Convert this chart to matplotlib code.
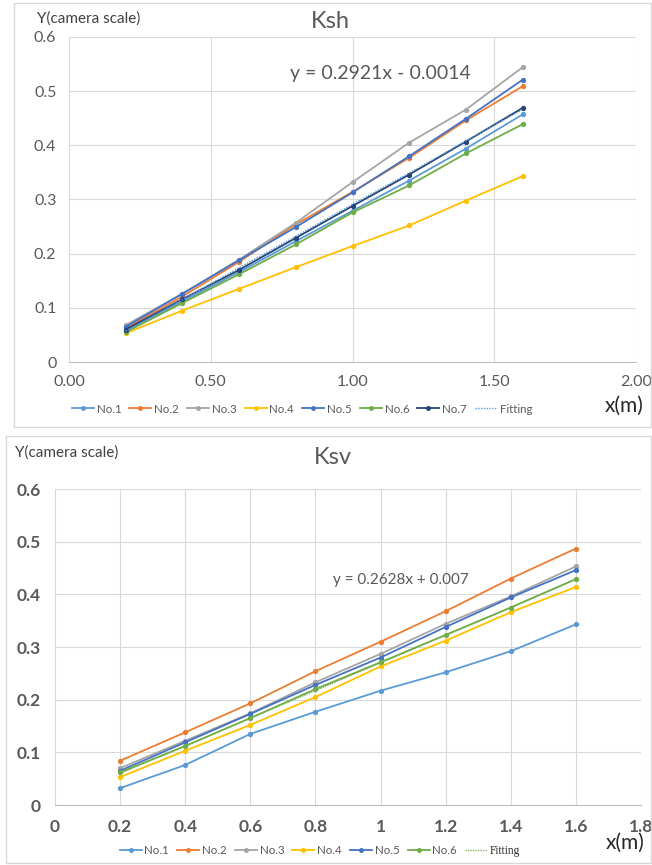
import matplotlib
matplotlib.use("Agg")
import matplotlib.pyplot as plt
from matplotlib.patches import Rectangle
from matplotlib.ticker import FuncFormatter

plt.rcParams['font.family'] = ['Lato', 'DejaVu Sans']

W, H = 652, 865

# data
x_vals = [0.2, 0.4, 0.6, 0.8, 1.0, 1.2, 1.4, 1.6]

ksh_no1 = [0.058, 0.112, 0.166, 0.223, 0.279, 0.335, 0.394, 0.457]
ksh_no2 = [0.062, 0.121, 0.185, 0.254, 0.314, 0.377, 0.446, 0.509]
ksh_no3 = [0.068, 0.126, 0.189, 0.257, 0.332, 0.405, 0.466, 0.544]
ksh_no4 = [0.053, 0.095, 0.135, 0.175, 0.214, 0.252, 0.298, 0.343]
ksh_no5 = [0.065, 0.126, 0.188, 0.249, 0.313, 0.380, 0.449, 0.521]
ksh_no6 = [0.055, 0.109, 0.162, 0.217, 0.276, 0.326, 0.385, 0.439]
ksh_no7 = [0.060, 0.116, 0.170, 0.229, 0.288, 0.346, 0.407, 0.469]
ksh_fit = [0.057, 0.115, 0.174, 0.232, 0.291, 0.349, 0.408, 0.466]

ksv_no1 = [0.032, 0.076, 0.135, 0.177, 0.217, 0.252, 0.292, 0.343]
ksv_no2 = [0.084, 0.138, 0.193, 0.254, 0.310, 0.368, 0.430, 0.487]
ksv_no3 = [0.070, 0.122, 0.174, 0.233, 0.287, 0.344, 0.396, 0.453]
ksv_no4 = [0.053, 0.103, 0.152, 0.205, 0.263, 0.312, 0.366, 0.414]
ksv_no5 = [0.065, 0.119, 0.173, 0.228, 0.280, 0.338, 0.394, 0.446]
ksv_no6 = [0.062, 0.112, 0.165, 0.220, 0.271, 0.323, 0.375, 0.429]
ksv_fit = [0.060, 0.112, 0.165, 0.217, 0.270, 0.322, 0.375, 0.428]

ksh_series = [ksh_no1, ksh_no2, ksh_no3, ksh_no4, ksh_no5, ksh_no6, ksh_no7]
ksv_series = [ksv_no1, ksv_no2, ksv_no3, ksv_no4, ksv_no5, ksv_no6]
names = ['No.1', 'No.2', 'No.3', 'No.4', 'No.5', 'No.6', 'No.7']
colors = ['#5B9BD5', '#ED7D31', '#A5A5A5', '#FFC000', '#4472C4', '#70AD47', '#264478']

txt = '#595959'
grid = '#D9D9D9'


def fx(x):
    return x / W


def fy(y):
    return 1 - y / H


def make_axes(l, t, r, b):
    return fig.add_axes([fx(l), fy(b), fx(r) - fx(l), fy(t) - fy(b)])


def style(ax, bold):
    for s in ['top', 'right', 'left']:
        ax.spines[s].set_visible(False)
    ax.spines['bottom'].set_color('#BFBFBF')
    ax.grid(True, color=grid, lw=0.8)
    ax.set_axisbelow(True)
    ax.tick_params(length=0, colors=txt)
    ax.set_ylim(0, 0.6)
    ax.set_yticks([0, 0.1, 0.2, 0.3, 0.4, 0.5, 0.6])
    ax.yaxis.set_major_formatter(FuncFormatter(lambda v, p: '{:g}'.format(round(v, 2))))
    w = 'bold' if bold else 'normal'
    for lab in ax.get_xticklabels() + ax.get_yticklabels():
        lab.set_fontweight(w)


fig = plt.figure(figsize=(W / 100, H / 100), dpi=100)

# outer frames
fig.patches.append(Rectangle((fx(14), fy(427)), fx(651) - fx(14), fy(2.5) - fy(427),
                             transform=fig.transFigure, fill=False, ec=grid, lw=1))
fig.patches.append(Rectangle((fx(6), fy(863)), fx(651) - fx(6), fy(436) - fy(863),
                             transform=fig.transFigure, fill=False, ec=grid, lw=1))

# ---- Ksh ----
ax1 = make_axes(69, 37, 636, 362)
for vals, c, n in zip(ksh_series, colors, names):
    ax1.plot(x_vals, vals, color=c, lw=1.3, marker='o', ms=2.8, label=n)
ax1.plot(x_vals, ksh_fit, color='#5B9BD5', lw=1.0, ls=(0, (1, 1)), label='Fitting')
ax1.set_xlim(0, 2.0)
ax1.set_xticks([0, 0.5, 1.0, 1.5, 2.0])
ax1.xaxis.set_major_formatter(FuncFormatter(lambda v, p: '%.2f' % v))
ax1.tick_params(axis='both', labelsize=11.5, pad=9)
style(ax1, False)

h1, l1 = ax1.get_legend_handles_labels()
fig.legend(h1, l1, loc='center', bbox_to_anchor=(fx(302), fy(409)), ncol=8,
           frameon=False, fontsize=8.3, handlelength=1.9, handletextpad=0.25,
           columnspacing=0.7, labelcolor=txt, markerscale=0.9)

fig.text(fx(37), fy(19), 'Y(camera scale)', fontsize=11, color='#404040', va='center')
fig.text(fx(330), fy(21), 'Ksh', fontsize=17, color=txt, ha='center', va='center')
fig.text(fx(290), fy(74), 'y = 0.2921x - 0.0014', fontsize=14, color=txt, va='center')
fig.text(fx(605), fy(406), 'x(m)', fontsize=15, color='#262626', va='center')

# ---- Ksv ----
ax2 = make_axes(55, 489, 641, 805)
for vals, c, n in zip(ksv_series, colors, names):
    ax2.plot(x_vals, vals, color=c, lw=1.3, marker='o', ms=2.8, label=n)
ax2.plot(x_vals, ksv_fit, color='#70AD47', lw=0.9, ls=(0, (1, 1)), label='Fitting')
ax2.set_xlim(0, 1.8)
ax2.set_xticks([0, 0.2, 0.4, 0.6, 0.8, 1.0, 1.2, 1.4, 1.6, 1.8])
ax2.xaxis.set_major_formatter(FuncFormatter(lambda v, p: '{:g}'.format(round(v, 2))))
ax2.tick_params(axis='both', labelsize=12.5, pad=10)
style(ax2, True)

h2, l2 = ax2.get_legend_handles_labels()
leg2 = fig.legend(h2, l2, loc='center', bbox_to_anchor=(fx(320), fy(851)), ncol=7,
                  frameon=False, fontsize=8.3, handlelength=1.9, handletextpad=0.25,
                  columnspacing=0.7, labelcolor=txt, markerscale=0.9)
leg2.get_texts()[-1].set_fontfamily(['Liberation Serif', 'DejaVu Serif'])
leg2.get_texts()[-1].set_color('#262626')

fig.text(fx(15), fy(453), 'Y(camera scale)', fontsize=11, color='#404040', va='center')
fig.text(fx(333), fy(458), 'Ksv', fontsize=17, color=txt, ha='center', va='center')
fig.text(fx(333), fy(580), 'y = 0.2628x + 0.007', fontsize=11, color=txt, va='center')
fig.text(fx(606), fy(843), 'x(m)', fontsize=15, color='#262626', va='center')

fig.savefig('out.png', dpi=100)
